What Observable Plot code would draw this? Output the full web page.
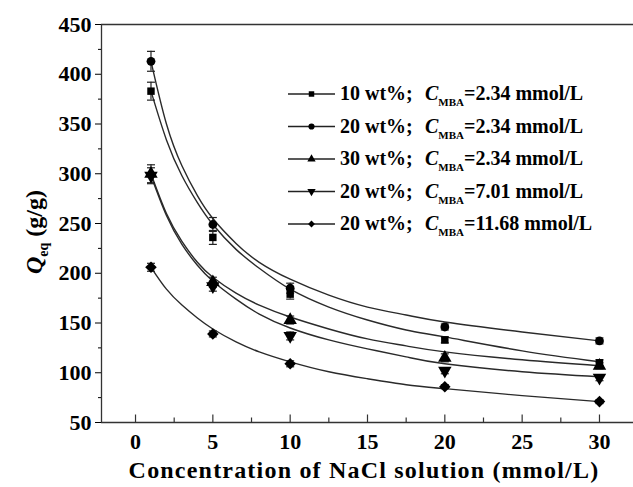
<!DOCTYPE html>
<html><head><meta charset="utf-8">
<script src="https://cdn.jsdelivr.net/npm/d3@7"></script>
<script src="https://cdn.jsdelivr.net/npm/@observablehq/plot@0.6"></script>
<style>
body{margin:0;background:#fff}
#chart svg{font-family:"Liberation Serif","Times New Roman",serif;font-weight:bold;}
</style>
</head><body><div id="chart"></div>
<script>
// ---- data ----
const nacl = [1, 5, 10, 20, 30];
const seriesLabels = ["10 wt%;", "20 wt%;", "30 wt%;", "20 wt%;", "20 wt%;"];
const mbaLabels = ["=2.34 mmol/L", "=2.34 mmol/L", "=2.34 mmol/L", "=7.01 mmol/L", "=11.68 mmol/L"];
const q1 = [383, 236, 179, 133, 110];   // 10 wt%, 2.34 (square)
const q2 = [413, 249, 185, 146, 132];   // 20 wt%, 2.34 (circle)
const q3 = [300, 191, 153, 115, 107];   // 30 wt%, 2.34 (triangle)
const q4 = [298, 187, 137, 102, 95];    // 20 wt%, 7.01 (down triangle)
const q5 = [206, 139, 109, 86, 71];     // 20 wt%, 11.68 (diamond)
const e1 = [9, 7, 5, 3, 3];
const e2 = [10, 7, 5, 3, 3];
const e3 = [9, 5, 4, 4, 3];
const e4 = [8, 5, 4, 3, 3];
const e5 = [4, 3, 3, 2, 2];
// fitted curves, read at these concentrations
const fitX = [1, 2, 3, 4, 5, 6.5, 8, 10, 12.5, 15, 17.5, 20, 25, 30];
const f1 = [383, 334, 298, 271, 249, 224, 205, 184, 166, 153, 143, 136, 122, 111];
const f2 = [413, 350, 308, 278, 255, 230, 211, 194, 178, 166, 158, 151, 141, 132];
const f3 = [300, 260, 232, 211, 196, 180, 168, 156, 144, 134, 127, 121, 113, 107];
const f4 = [298, 258, 229, 208, 192, 174, 159, 145, 133, 124, 116, 109, 101, 96];
const f5 = [206, 184, 168, 155, 144, 131, 121, 111, 101, 94, 88, 84, 77, 71];
const yMajor = [50, 100, 150, 200, 250, 300, 350, 400, 450];
const yMinor = [75, 125, 175, 225, 275, 325, 375, 425];
const xMajor = [0, 5, 10, 15, 20, 25, 30];
const xMinor = [2.5, 7.5, 12.5, 17.5, 22.5, 27.5];
const xDomain = [-2.2, 32.2];
const yDomain = [50, 450];

// ---- symbols ----
const sqrt3 = Math.sqrt(3);
const downTriangle = {draw(ctx, size) {
  const y = -Math.sqrt(size / (sqrt3 * 3));
  ctx.moveTo(0, -y * 2); ctx.lineTo(-sqrt3 * y, y); ctx.lineTo(sqrt3 * y, y); ctx.closePath();
}};
const capSym = {draw(ctx) { const w = 4; ctx.moveTo(-w, 0); ctx.lineTo(w, 0); }};
const tickMajor = {draw(ctx) { ctx.moveTo(0, 0); ctx.lineTo(0, -8); }};
const tickMinor = {draw(ctx) { ctx.moveTo(0, 0); ctx.lineTo(0, -5); }};
const symbols = ["square", "circle", "triangle", downTriangle, "diamond2"];
const radii = [4.2, 4.4, 5, 5, 5.2];

const Q = [q1, q2, q3, q4, q5], E = [e1, e2, e3, e4, e5], F = [f1, f2, f3, f4, f5];
const points = Q.map((q, s) => nacl.map((x, i) => ({s, x, q: q[i], e: E[s][i]})));
const fits = F.flatMap((f, s) => fitX.map((x, i) => ({s, x, q: f[i]})));
const allPts = points.flat();

const plot = Plot.plot({
  width: 633, height: 487,
  marginLeft: 101, marginRight: 0, marginTop: 24, marginBottom: 65,
  x: {domain: xDomain},
  y: {domain: yDomain},
  style: {color: "black", background: "white", overflow: "visible"},
  marks: [
    Plot.ruleY([yDomain[1]], {stroke: "#333", strokeWidth: 1.3}),
    Plot.ruleY([yDomain[0]], {stroke: "#333", strokeWidth: 1.3}),
    Plot.ruleX([xDomain[0]], {stroke: "#333", strokeWidth: 1.3}),
    Plot.axisY(yMajor, {tickSize: 6, tickPadding: 4, label: null, fontSize: 22, fontWeight: "bold"}),
    Plot.axisY(yMinor, {tickSize: 3, tickFormat: () => "", label: null}),
    Plot.axisX(xMajor, {tickSize: 0, tickPadding: 11, label: null, fontSize: 22, fontWeight: "bold"}),
    Plot.dot(xMajor, {x: d => d, frameAnchor: "bottom", symbol: tickMajor, fill: "none", stroke: "#333", strokeWidth: 1.2}),
    Plot.dot(xMinor, {x: d => d, frameAnchor: "bottom", symbol: tickMinor, fill: "none", stroke: "#333", strokeWidth: 1.2}),
    Plot.line(fits, {x: "x", y: "q", z: "s", curve: "natural", stroke: "#2a2a2a", strokeWidth: 1.4}),
    Plot.ruleX(allPts, {x: "x", y1: d => d.q - d.e, y2: d => d.q + d.e, stroke: "#222", strokeWidth: 1.2}),
    Plot.dot(allPts, {x: "x", y: d => d.q + d.e, symbol: capSym, fill: "none", stroke: "#222", strokeWidth: 1.2}),
    Plot.dot(allPts, {x: "x", y: d => d.q - d.e, symbol: capSym, fill: "none", stroke: "#222", strokeWidth: 1.2}),
    ...points.map((pts, s) => Plot.dot(pts, {x: "x", y: "q", symbol: symbols[s], r: radii[s], fill: "black", stroke: "none"}))
  ]
});
document.getElementById("chart").appendChild(plot);

// ---- titles and legend ----
const svg = d3.select(plot);
svg.append("text").attr("x", 364).attr("y", 478).attr("text-anchor", "middle")
  .attr("font-size", 24).attr("letter-spacing", 1.2).attr("font-weight", "bold").attr("fill", "black")
  .text("Concentration of NaCl solution (mmol/L)");
const yt = svg.append("text").attr("transform", "translate(42,232) rotate(-90)")
  .attr("text-anchor", "middle").attr("font-size", 24).attr("font-weight", "bold").attr("fill", "black");
yt.append("tspan").attr("font-style", "italic").text("Q");
yt.append("tspan").attr("font-size", 14).attr("dy", 6).text("eq");
yt.append("tspan").attr("dy", -6).text(" (g/g)");

const legend = svg.append("g").attr("text-anchor", "start");
const legSymbols = [d3.symbolSquare, d3.symbolCircle, d3.symbolTriangle, downTriangle, d3.symbolDiamond2];
seriesLabels.forEach((lab, i) => {
  const cy = 94 + i * 32.5;
  const g = legend.append("g");
  g.append("line").attr("x1", 288).attr("x2", 335).attr("y1", cy).attr("y2", cy).attr("stroke", "#222").attr("stroke-width", 1.4);
  g.append("path").attr("d", d3.symbol(legSymbols[i], 30)()).attr("transform", `translate(311.5,${cy})`).attr("fill", "black");
  g.append("text").attr("x", 340).attr("y", cy + 6).attr("text-anchor", "start").attr("font-size", 20).attr("font-weight", "bold").attr("fill", "black").text(lab);
  const t = g.append("text").attr("x", 425).attr("y", cy + 6).attr("text-anchor", "start").attr("font-size", 20).attr("font-weight", "bold").attr("fill", "black");
  t.append("tspan").attr("font-style", "italic").text("C");
  t.append("tspan").attr("font-size", 11).attr("dy", 6).text("MBA");
  t.append("tspan").attr("dy", -6).text(mbaLabels[i]);
});
</script>
</body></html>
